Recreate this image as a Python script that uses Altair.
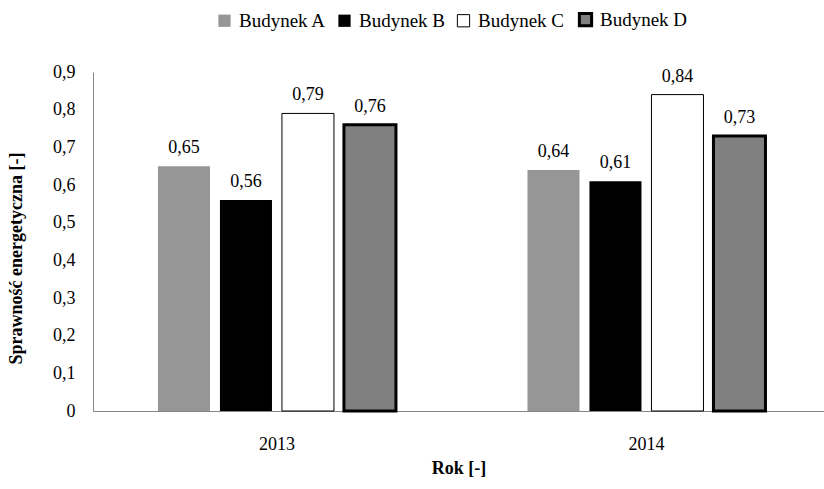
import altair as alt
import pandas as pd

years = ["2013", "2014"]
series = ["Budynek A", "Budynek B", "Budynek C", "Budynek D"]
values_2013 = [0.65, 0.56, 0.79, 0.76]
values_2014 = [0.64, 0.61, 0.84, 0.73]

fills = ["#969696", "#000000", "#ffffff", "#808080"]
strokes = ["#969696", "#000000", "#000000", "#000000"]
stroke_widths = [0, 0, 1, 3]

rows = []
for y, vals in zip(years, [values_2013, values_2014]):
    for s, v in zip(series, vals):
        rows.append({"rok": y, "seria": s, "wartosc": v})
df = pd.DataFrame(rows)

FONT = "Times New Roman"

y_ticks = [0, 0.1, 0.2, 0.3, 0.4, 0.5, 0.6, 0.7, 0.8, 0.9]

x_enc = alt.X("rok:N", sort=years,
              scale=alt.Scale(paddingInner=0.3559, paddingOuter=0.1671, align=0.526),
              axis=alt.Axis(title="Rok [-]", labelAngle=0, ticks=False,
                            domainColor="#868686", labelPadding=24,
                            titlePadding=6))
xoff = alt.XOffset("seria:N", sort=series,
                   scale=alt.Scale(paddingInner=0.161, paddingOuter=0))
y_enc = alt.Y("wartosc:Q",
              scale=alt.Scale(domain=[0, 0.9], nice=False),
              axis=alt.Axis(title="Sprawność energetyczna [-]",
                            values=y_ticks,
                            labelExpr="datum.value == 0 ? '0' : replace(format(datum.value, '.1f'), '.', ',')",
                            labelOverlap=False,
                            grid=False, ticks=False, domainColor="#868686",
                            labelPadding=18,
                            titleX=-68, titleY=186))

leg = alt.Legend(title=None, orient="none", direction="horizontal",
                 legendX=122, legendY=-62, symbolType="square", symbolSize=150,
                 labelFontSize=19, labelFont=FONT, labelColor="black",
                 labelOffset=5, columnPadding=8, padding=0)

base = alt.Chart(df).transform_calculate(
    etykieta="replace(format(datum.wartosc, '.2f'), '.', ',')"
).encode(x=x_enc, xOffset=xoff, y=y_enc)

bars = base.mark_bar(stroke="black", strokeWidth=1).encode(
    fill=alt.Fill("seria:N", sort=series,
                  scale=alt.Scale(domain=series, range=fills),
                  legend=leg),
    stroke=alt.Stroke("seria:N", sort=series,
                      scale=alt.Scale(domain=series, range=strokes),
                      legend=leg),
    strokeWidth=alt.StrokeWidth("seria:N", sort=series,
                                scale=alt.Scale(type="ordinal", domain=series, range=stroke_widths),
                                legend=leg),
)

labels = base.mark_text(baseline="alphabetic", dy=-13, fontSize=18, font=FONT,
                        color="black").encode(text="etykieta:N")

chart = alt.layer(bars, labels).properties(
    width=731, height=339,
    autosize=alt.AutoSizeParams(type="none"),
    padding={"left": 93, "top": 72, "right": 0, "bottom": 78},
).configure_view(strokeWidth=0).configure_axis(
    labelFont=FONT, titleFont=FONT, labelFontSize=18, titleFontSize=18,
    labelColor="black", titleColor="black", titleFontWeight="bold",
    labelFontWeight="normal",
).configure_text(font=FONT)

chart.save("out.html", embed_options={"renderer": "svg", "actions": False})
